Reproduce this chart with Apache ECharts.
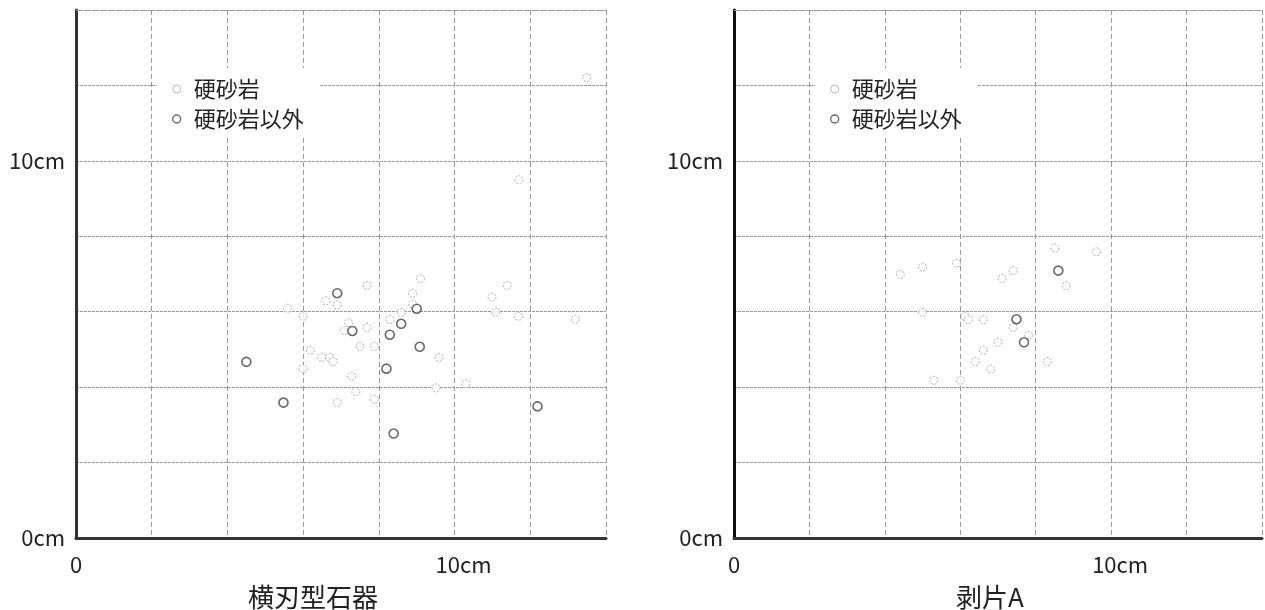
<!DOCTYPE html>
<html>
<head>
<meta charset="utf-8">
<script src="https://cdn.jsdelivr.net/npm/echarts@6/dist/echarts.min.js"></script>
<style>
  html, body { margin: 0; padding: 0; background: #fff; }
  #chart { width: 1265px; height: 610px; }
</style>
</head>
<body>
<div id="chart"></div>
<script>
// 横刃型石器 : [長さ(x) cm, 高さ(y) cm]
const blade_hard = [
  [9.10, 6.88], [7.69, 6.70], [8.89, 6.49], [6.60, 6.29], [6.90, 6.18], [8.89, 6.20],
  [5.59, 6.09], [6.00, 5.88], [8.59, 5.98], [8.29, 5.79], [7.20, 5.71], [7.09, 5.50],
  [7.69, 5.58], [7.50, 5.08], [7.88, 5.08], [6.19, 4.98], [6.49, 4.79], [6.70, 4.79],
  [6.79, 4.68], [6.00, 4.49], [7.28, 4.29], [9.59, 4.79], [7.39, 3.88], [6.90, 3.59],
  [7.88, 3.68], [9.51, 3.98], [10.30, 4.09], [10.99, 6.39], [11.39, 6.70], [11.09, 5.99],
  [11.69, 5.88], [13.19, 5.80], [13.49, 12.21], [11.70, 9.50]
]
const blade_other = [
  [6.90, 6.49], [9.00, 6.08], [8.59, 5.68], [7.30, 5.49], [8.29, 5.39], [9.08, 5.07],
  [4.50, 4.67], [8.20, 4.49], [5.48, 3.59], [12.19, 3.49], [8.39, 2.77]
]
// 剥片A
const flake_hard = [
  [8.51, 7.69], [9.61, 7.59], [4.41, 6.99], [5.00, 7.18], [5.90, 7.29], [7.40, 7.09],
  [7.11, 6.88], [8.81, 6.69], [5.00, 5.98], [6.12, 5.88], [6.21, 5.79], [6.61, 5.79],
  [7.40, 5.58], [7.81, 5.38], [7.00, 5.19], [6.61, 4.98], [6.40, 4.68], [6.81, 4.48],
  [8.31, 4.68], [5.30, 4.18], [6.00, 4.18]
]
const flake_other = [
  [8.60, 7.09], [7.49, 5.80], [7.69, 5.19]
]

const seriesNames = ['硬砂岩', '硬砂岩以外']
const panelTitles = ['横刃型石器', '剥片A']
const xTickLabels = { 0: '0', 10: '10cm' }
const yTickLabels = { 0: '0cm', 10: '10cm' }

const FONT = '"Noto Sans CJK JP", "Noto Sans", sans-serif'

const myChart = echarts.init(document.getElementById('chart'))

const grids = [
  { left: 76, top: 10, width: 530, height: 528 },
  { left: 734, top: 10, width: 529, height: 528 }
]

function xAxisOf (i) {
  return {
    gridIndex: i,
    type: 'value',
    min: 0,
    max: 14,
    interval: 2,
    axisLine: { show: true, onZero: false, lineStyle: { color: '#333', width: 3 } },
    axisTick: { show: false },
    axisLabel: {
      color: '#222',
      fontFamily: FONT,
      fontSize: 22,
      margin: 16,
      showMinLabel: true,
      showMaxLabel: true,
      // 10cm のラベルは少し右寄り
      formatter: v => v === 10 ? '{s|' + xTickLabels[v] + '}' : (xTickLabels[v] || ''),
      rich: {
        s: { fontFamily: FONT, fontSize: 22, color: '#222', padding: [0, 0, 0, 18] }
      }
    },
    splitLine: { show: true, lineStyle: { color: '#999', width: 1, type: [5, 3] } }
  }
}

function yAxisOf (i) {
  return {
    gridIndex: i,
    type: 'value',
    min: 0,
    max: 14,
    interval: 2,
    axisLine: { show: true, onZero: false, lineStyle: { color: i === 0 ? '#333' : '#111', width: 3 } },
    axisTick: { show: false },
    axisLabel: {
      color: '#222',
      fontFamily: FONT,
      fontSize: 22,
      margin: 11,
      showMinLabel: true,
      formatter: v => yTickLabels[v] || ''
    },
    splitLine: { show: true, lineStyle: { color: '#9a9a9a', width: 1, type: [3, 1] } }
  }
}

function hardSeries (i, data) {
  return {
    name: seriesNames[0],
    type: 'scatter',
    xAxisIndex: i,
    yAxisIndex: i,
    data: data,
    symbol: 'circle',
    symbolSize: 8,
    itemStyle: { color: '#fff', borderColor: '#999', borderWidth: 1, borderType: [2, 1.5] },
    // 上端の破線
    markLine: {
      silent: true,
      symbol: 'none',
      label: { show: false },
      lineStyle: { color: '#999', width: 1, type: [5, 3] },
      data: [{ yAxis: 14 }]
    }
  }
}

function otherSeries (i, data) {
  return {
    name: seriesNames[1],
    type: 'scatter',
    xAxisIndex: i,
    yAxisIndex: i,
    data: data,
    symbol: 'circle',
    symbolSize: 9,
    itemStyle: { color: '#fff', borderColor: '#444', borderWidth: 1.6 }
  }
}

function legendOf (left) {
  return {
    left: left,
    top: 68,
    orient: 'vertical',
    backgroundColor: '#fff',
    padding: [10, 16, 7, 15],
    itemWidth: 24,
    itemHeight: 8,
    itemGap: 8,
    data: [
      { name: seriesNames[0], itemStyle: { color: '#fff', borderColor: '#aaa', borderWidth: 1 } },
      { name: seriesNames[1], itemStyle: { color: '#fff', borderColor: '#444', borderWidth: 1.4 } }
    ],
    textStyle: { color: '#222', fontFamily: FONT, fontSize: 22 }
  }
}

const titleStyle = { color: '#222', fontFamily: FONT, fontSize: 26, fontWeight: 'normal' }

const option = {
  animation: false,
  backgroundColor: '#fff',
  title: [
    { text: panelTitles[0], left: 308, top: 579, textAlign: 'center', textStyle: titleStyle },
    { text: panelTitles[1], left: 985, top: 579, textAlign: 'center', textStyle: titleStyle }
  ],
  legend: [legendOf(157), legendOf(815)],
  grid: grids,
  xAxis: [xAxisOf(0), xAxisOf(1)],
  yAxis: [yAxisOf(0), yAxisOf(1)],
  series: [
    hardSeries(0, blade_hard),
    otherSeries(0, blade_other),
    hardSeries(1, flake_hard),
    otherSeries(1, flake_other)
  ]
}

myChart.setOption(option)
window.addEventListener('resize', () => {
  myChart.resize()
})
</script>
</body>
</html>
